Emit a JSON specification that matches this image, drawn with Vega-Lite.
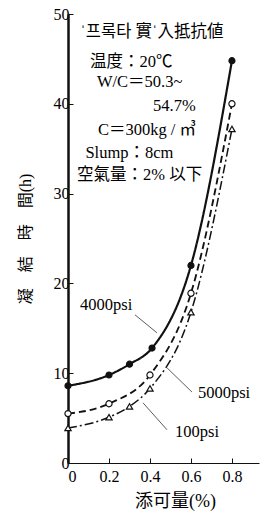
{
  "$schema": "https://vega.github.io/schema/vega-lite/v6.json",
  "width": 191,
  "height": 449,
  "autosize": {"type": "none"},
  "padding": {"left": 68, "top": 14, "right": 5, "bottom": 53},
  "background": "white",
  "config": {
    "view": {"stroke": null},
    "font": "Liberation Serif",
    "axis": {"grid": false, "domainColor": "#111", "tickColor": "#111", "labelColor": "#000", "titleColor": "#000", "labelFont": "Liberation Serif", "titleFont": "Liberation Serif, Noto Sans CJK JP", "titleFontWeight": "normal"}
  },
  "datasets": {
    "curves": [
      {"series": "4000psi", "x": 0, "y": 8.6},
      {"series": "4000psi", "x": 0.2, "y": 9.8},
      {"series": "4000psi", "x": 0.3, "y": 11.0},
      {"series": "4000psi", "x": 0.41, "y": 12.8},
      {"series": "4000psi", "x": 0.6, "y": 22.0},
      {"series": "4000psi", "x": 0.8, "y": 44.8},
      {"series": "5000psi", "x": 0, "y": 5.5},
      {"series": "5000psi", "x": 0.2, "y": 6.6},
      {"series": "5000psi", "x": 0.4, "y": 9.8},
      {"series": "5000psi", "x": 0.6, "y": 18.9},
      {"series": "5000psi", "x": 0.8, "y": 40.0},
      {"series": "100psi", "x": 0, "y": 3.9},
      {"series": "100psi", "x": 0.2, "y": 5.1},
      {"series": "100psi", "x": 0.3, "y": 6.3},
      {"series": "100psi", "x": 0.4, "y": 8.3},
      {"series": "100psi", "x": 0.6, "y": 16.8},
      {"series": "100psi", "x": 0.8, "y": 37.2}
    ],
    "notes": [
      {"text": "ˈ프록타 實ˈ入抵抗値", "x": 0.06, "y": 48.0},
      {"text": "温度：20℃", "x": 0.107, "y": 44.65},
      {"text": "W/C＝50.3~", "x": 0.141, "y": 42.4},
      {"text": "54.7%", "x": 0.415, "y": 39.75},
      {"text": "C＝300kg / ㎥", "x": 0.146, "y": 37.1},
      {"text": "Slump：8cm", "x": 0.085, "y": 34.5},
      {"text": "空氣量：2% 以下", "x": 0.044, "y": 32.1},
      {"text": "4000psi", "x": 0.059, "y": 17.6},
      {"text": "5000psi", "x": 0.634, "y": 7.8},
      {"text": "100psi", "x": 0.522, "y": 3.45}
    ],
    "leaders": [
      {"x": 0.327, "y": 16.5, "x2": 0.434, "y2": 14.5},
      {"x": 0.483, "y": 10.6, "x2": 0.605, "y2": 7.9},
      {"x": 0.366, "y": 6.7, "x2": 0.483, "y2": 3.7}
    ]
  },
  "layer": [
    {
      "data": {"name": "curves"},
      "mark": {"type": "line", "interpolate": "monotone", "color": "#111"},
      "encoding": {
        "x": {"field": "x", "type": "quantitative", "scale": {"domain": [0, 0.932], "nice": false},
          "axis": {"values": [0, 0.2, 0.4, 0.6, 0.8], "format": ".1~f", "tickSize": -5, "labelFontSize": 16, "labelPadding": 10, "domainWidth": 1.2, "title": "添可量(%)", "titleFontSize": 18, "titlePadding": 8, "titleX": 107}},
        "y": {"field": "y", "type": "quantitative", "scale": {"domain": [0, 50], "nice": false},
          "axis": {"values": [0, 10, 20, 30, 40, 50], "tickSize": -5, "labelFontSize": 16, "labelPadding": 4, "domainWidth": 2.5, "title": "凝　結　時　間(h)", "titleFontSize": 16, "titlePadding": 20}},
        "detail": {"field": "series"},
        "strokeDash": {"field": "series", "type": "nominal", "scale": {"domain": ["4000psi", "5000psi", "100psi"], "range": [[1, 0], [7, 4], [9, 3, 2, 3]]}, "legend": null},
        "strokeWidth": {"field": "series", "type": "nominal", "scale": {"domain": ["4000psi", "5000psi", "100psi"], "range": [2.2, 1.5, 1.3]}, "legend": null}
      }
    },
    {
      "data": {"name": "curves"},
      "mark": {"type": "point", "stroke": "#111", "strokeWidth": 1.2, "opacity": 1},
      "encoding": {
        "x": {"field": "x", "type": "quantitative"},
        "y": {"field": "y", "type": "quantitative"},
        "shape": {"field": "series", "type": "nominal", "scale": {"domain": ["4000psi", "5000psi", "100psi"], "range": ["circle", "circle", "triangle-up"]}, "legend": null},
        "fill": {"field": "series", "type": "nominal", "scale": {"domain": ["4000psi", "5000psi", "100psi"], "range": ["#111", "white", "white"]}, "legend": null},
        "size": {"field": "series", "type": "nominal", "scale": {"domain": ["4000psi", "5000psi", "100psi"], "range": [36, 40, 22]}, "legend": null}
      }
    },
    {
      "data": {"name": "leaders"},
      "mark": {"type": "rule", "color": "#333", "strokeWidth": 0.8},
      "encoding": {
        "x": {"field": "x", "type": "quantitative"},
        "y": {"field": "y", "type": "quantitative"},
        "x2": {"field": "x2"},
        "y2": {"field": "y2"}
      }
    },
    {
      "data": {"name": "notes"},
      "mark": {"type": "text", "align": "left", "baseline": "middle", "fontSize": 16.5, "font": "Liberation Serif, Noto Sans CJK KR", "color": "#000"},
      "encoding": {
        "x": {"field": "x", "type": "quantitative"},
        "y": {"field": "y", "type": "quantitative"},
        "text": {"field": "text"}
      }
    }
  ]
}
